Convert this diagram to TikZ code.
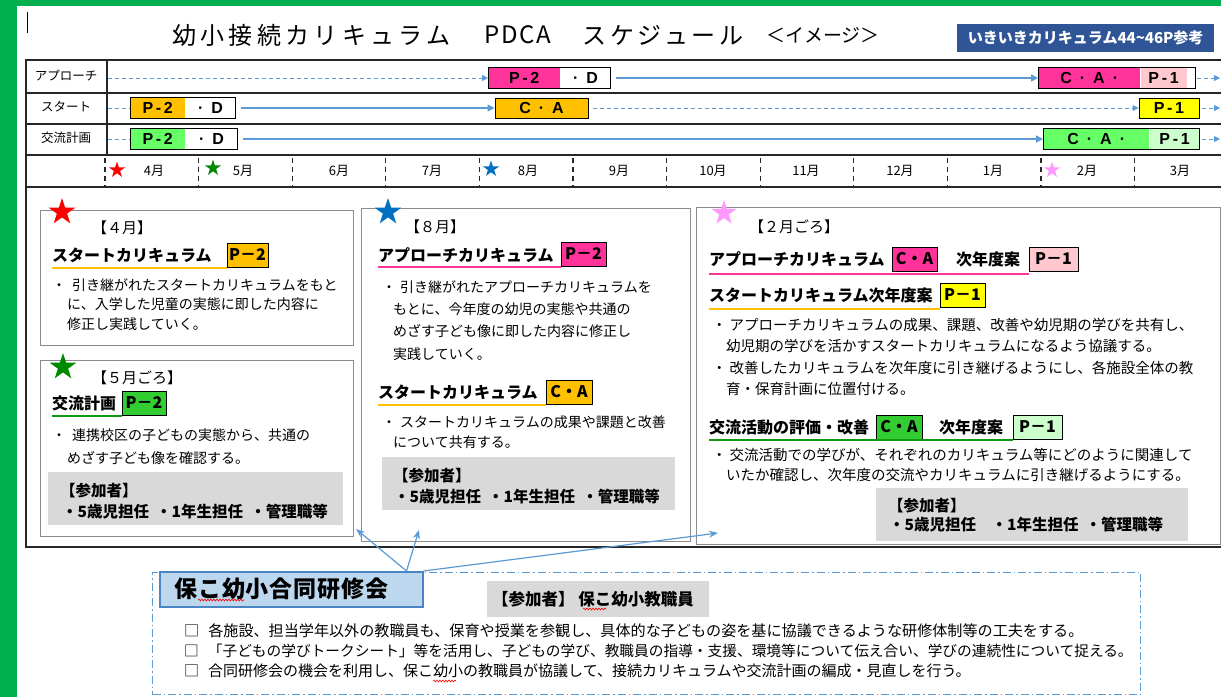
\documentclass[tikz,border=0pt]{standalone}
\usepackage{fontspec}
\setmainfont{Noto Sans CJK JP}
\newfontfamily\lat{Liberation Sans}
\usetikzlibrary{arrows.meta,shapes.geometric,decorations.pathmorphing}
\newcommand\fsz[1]{\fontsize{#1}{#1}\selectfont}
\definecolor{frameg}{HTML}{00B050}
\definecolor{arrb}{HTML}{5B9BD5}
\definecolor{pinkc}{HTML}{FF3399}
\definecolor{lpink}{HTML}{FFC7CE}
\definecolor{orangec}{HTML}{FFC000}
\definecolor{yellowc}{HTML}{FFFF00}
\definecolor{greenc}{HTML}{66FF66}
\definecolor{greenp}{HTML}{33CC33}
\definecolor{lgreen}{HTML}{CCFFCC}
\definecolor{dgreen}{HTML}{119911}
\definecolor{starblue}{HTML}{0070C0}
\definecolor{starpink}{HTML}{FF99FF}
\definecolor{starg}{HTML}{008A00}
\definecolor{grayb}{HTML}{D9D9D9}
\definecolor{panelb}{HTML}{8C8C8C}
\definecolor{navyb}{HTML}{2F5597}
\definecolor{lblue}{HTML}{BDD7EE}
\definecolor{tborder}{HTML}{4A86C5}
\tikzset{
  bodytxt/.style={anchor=west, inner sep=0pt, font=\fsz{14}},
  hdrtxt/.style={anchor=west, inner sep=0pt, font=\fsz{16}\bfseries},
  tagbox/.style={draw=black, line width=0.8pt, inner sep=0pt, minimum height=24pt, font=\fsz{16}\bfseries},
  tlpart/.style={inner sep=0pt, minimum height=20pt, font=\lat\fsz{16}\bfseries},
  tlframe/.style={draw=black, line width=1pt},
  pnl/.style={draw=panelb, line width=1.3pt, anchor=north west, inner sep=0pt},
  gbox/.style={fill=grayb, anchor=north west, inner sep=0pt},
  ptxt/.style={anchor=west, inner sep=0pt, font=\fsz{15.5}\bfseries},
  sarr/.style={draw=arrb, line width=1.6pt, -{Triangle[length=7pt,width=7pt]}},
  darr/.style={draw=arrb, line width=1pt, dash pattern=on 4pt off 3pt, -{Triangle[length=6pt,width=6pt]}},
  dline/.style={draw=arrb, line width=1pt, dash pattern=on 4pt off 3pt},
  barr/.style={draw=arrb, line width=1.2pt, -{Stealth[length=9pt,width=7pt]}},
  uln/.style={line width=2pt},
  tbl/.style={draw=black!85, line width=1.2pt},
  tblk/.style={draw=black!85, line width=2pt},
  mtick/.style={draw=black!85, line width=1.2pt, dash pattern=on 5pt off 4pt},
  mlab/.style={inner sep=0pt, font=\fsz{13}},
  bigstar/.style={star, star points=5, star point ratio=2.6, inner sep=0pt, minimum size=28pt},
  smstar/.style={bigstar, minimum size=17pt},
  wavy/.style={draw=red, line width=0.6pt, decorate, decoration={snake, amplitude=0.9pt, segment length=3pt}},
  rowlbl/.style={inner sep=0pt, font=\fsz{12.5}}
}
\begin{document}
\begin{tikzpicture}[x=1pt,y=-1pt]
\useasboundingbox (0,0) rectangle (1221,697);
% frame
\fill[frameg] (0,0) rectangle (1221,697);
\fill[white] (17,6) rectangle (1221,697);
\draw[black, line width=1pt] (27,12) -- (27,33);

% title
\node[anchor=west, inner sep=0pt, font=\fsz{24}\addfontfeature{LetterSpace=18}] (title1) at (172,35) {幼小接続カリキュラム};
\node[anchor=west, inner sep=0pt, font=\fsz{24}\addfontfeature{LetterSpace=8}] (title2) at (484,35) {PDCA};
\node[anchor=west, inner sep=0pt, font=\fsz{24}\addfontfeature{LetterSpace=16}] (title3) at (582,35) {スケジュール};
\node[anchor=west, inner sep=0pt, font=\fsz{19}] (title4) at (766,35) {＜イメージ＞};
\node[fill=navyb, text=white, font=\fsz{15}\bfseries, minimum width=257pt, minimum height=28pt, anchor=north west, inner sep=0pt] (refbox) at (957,24) {いきいきカリキュラム44\textasciitilde46P参考};

% panels
\node[pnl, minimum width=313pt, minimum height=135pt] (pan1) at (40,210) {};
\node[pnl, minimum width=313pt, minimum height=176pt] (pan2) at (40,360) {};
\node[pnl, minimum width=329pt, minimum height=333pt] (pan3) at (361,208) {};
\node[pnl, minimum width=524pt, minimum height=337pt] (pan4) at (696,207) {};

% table lines
\draw[tblk] (1222,60) -- (26,60) -- (26,547) -- (1222,547);
\draw[tbl] (26,93) -- (1222,93);
\draw[tbl] (26,124) -- (1222,124);
\draw[tblk] (26,155) -- (1222,155);
\draw[tblk] (26,187) -- (1222,187);
\draw[tbl] (107,60) -- (107,155);

% row labels
\node[rowlbl] (rl1) at (66,76) {アプローチ};
\node[rowlbl] (rl2) at (66,107) {スタート};
\node[rowlbl] (rl3) at (66,138) {交流計画};

% row 1
\node[tlpart, fill=pinkc, minimum width=72pt, anchor=west] (a1p) at (488,78) {P\,-\,2};
\node[tlpart, fill=white, minimum width=50pt, anchor=west] (a1d) at (a1p.east) {·\enspace D};
\draw[tlframe] (a1p.north west) rectangle (a1d.south east);
\node[tlpart, fill=pinkc, minimum width=102pt, anchor=west] (a2p) at (1038,78) {C\enspace·\enspace A\enspace·};
\node[tlpart, fill=lpink, minimum width=46pt, anchor=west] (a2q) at (a2p.east) {P\,-\,1};
\node[tlpart, fill=white, minimum width=8pt, anchor=west] (a2r) at (a2q.east) {};
\draw[tlframe] (a2p.north west) rectangle (a2r.south east);
\coordinate (a0) at (108,78);
\coordinate (aend) at (1220,78);
\draw[darr] (a0) -- (a1p.west);
\draw[sarr] ([xshift=5pt]a1d.east) -- (a2p.west);
\draw[darr] ([xshift=2pt]a2r.east) -- (aend);

% row 2
\node[tlpart, fill=orangec, minimum width=55pt, anchor=west] (s1p) at (130,108) {P\,-\,2};
\node[tlpart, fill=white, minimum width=50pt, anchor=west] (s1d) at (s1p.east) {·\enspace D};
\draw[tlframe] (s1p.north west) rectangle (s1d.south east);
\node[tlpart, fill=orangec, draw=black, line width=1pt, minimum width=93pt] (s2) at (541.5,108) {C\enspace·\enspace A};
\node[tlpart, fill=yellowc, draw=black, line width=1pt, minimum width=60pt] (s3) at (1169,108) {P\,-\,1};
\coordinate (s0) at (108,108);
\coordinate (send) at (1220,108);
\draw[dline] (s0) -- (s1p.west);
\draw[sarr] ([xshift=5pt]s1d.east) -- (s2.west);
\draw[darr] ([xshift=4pt]s2.east) -- (s3.west);
\draw[darr] ([xshift=2pt]s3.east) -- (send);

% row 3
\node[tlpart, fill=greenc, minimum width=55pt, anchor=west] (k1p) at (130,139) {P\,-\,2};
\node[tlpart, fill=white, minimum width=52pt, anchor=west] (k1d) at (k1p.east) {·\enspace D};
\draw[tlframe] (k1p.north west) rectangle (k1d.south east);
\node[tlpart, fill=greenc, minimum width=106pt, anchor=west] (k2p) at (1043,139) {C\enspace·\enspace A\enspace·};
\node[tlpart, fill=lgreen, minimum width=50pt, anchor=west] (k2q) at (k2p.east) {P\,-\,1};
\draw[tlframe] (k2p.north west) rectangle (k2q.south east);
\coordinate (k0) at (108,139);
\coordinate (kend) at (1220,139);
\draw[dline] (k0) -- (k1p.west);
\draw[sarr] ([xshift=5pt]k1d.east) -- (k2p.west);
\draw[darr] ([xshift=2pt]k2q.east) -- (kend);

% month row
\foreach \i in {0,...,11} \draw[mtick] ({105+93.6*\i},158) -- ({105+93.6*\i},187);
\node[mlab] (m4) at (154,171) {4月};
\node[mlab] (m5) at (243,171) {5月};
\node[mlab] (m6) at (339,171) {6月};
\node[mlab] (m7) at (432,171) {7月};
\node[mlab] (m8) at (528,171) {8月};
\node[mlab] (m9) at (619,171) {9月};
\node[mlab] (m10) at (713,171) {10月};
\node[mlab] (m11) at (806,171) {11月};
\node[mlab] (m12) at (900,171) {12月};
\node[mlab] (m1) at (993,171) {1月};
\node[mlab] (m2) at (1087,171) {2月};
\node[mlab] (m3) at (1180,171) {3月};
\node[smstar, fill=red] (ms4) at (117,170) {};
\node[smstar, fill=starg] (ms5) at (213,168) {};
\node[smstar, fill=starblue] (ms8) at (491,169) {};
\node[smstar, fill=starpink] (ms2) at (1052,170) {};

% panel 1
\node[bigstar, fill=red] (st1) at (62,212) {};
\node[bodytxt, font=\fsz{15}] (p1m) at (92,228) {【４月】};
\node[hdrtxt] (p1h) at (52,255) {スタートカリキュラム};
\node[tagbox, fill=orangec, minimum width=41pt] (p1t) at (247.5,255) {P－2};
\draw[uln, orangec] (52,268) -- (227,268);
\node[bodytxt] (p1b1) at (52,285) {・\hspace{6pt}引き継がれたスタートカリキュラムをもと};
\node[bodytxt] (p1b2) at (67,304) {に、入学した児童の実態に即した内容に};
\node[bodytxt] (p1b3) at (67,324) {修正し実践していく。};

% panel 2
\node[bigstar, fill=starg] (st2) at (63,367) {};
\node[bodytxt, font=\fsz{15}] (p2m) at (92,378) {【５月ごろ】};
\node[hdrtxt] (p2h) at (52,403) {交流計画};
\node[tagbox, fill=greenp, minimum width=44pt] (p2t) at (144,403) {P－2};
\draw[uln, dgreen] (52,416) -- (122,416);
\node[bodytxt] (p2b1) at (52,435) {・\hspace{6pt}連携校区の子どもの実態から、共通の};
\node[bodytxt] (p2b2) at (67,458) {めざす子ども像を確認する。};
\node[gbox, minimum width=295pt, minimum height=53pt] (p2g) at (48,472) {};
\node[ptxt] (p2g1) at (60,491) {【参加者】};
\node[ptxt] (p2g2) at (62,512) {・5歳児担任\ \ ・1年生担任\ \ ・管理職等};

% panel 3
\node[bigstar, fill=starblue] (st3) at (388,212) {};
\node[bodytxt, font=\fsz{15}] (p3m) at (405,227) {【８月】};
\node[hdrtxt] (p3h1) at (378,255) {アプローチカリキュラム};
\node[tagbox, fill=pinkc, minimum width=45pt] (p3t1) at (583.5,254) {P－2};
\draw[uln, pinkc] (378,267) -- (561,267);
\node[bodytxt] (p3b1) at (382,287) {・\hspace{4pt}引き継がれたアプローチカリキュラムを};
\node[bodytxt] (p3b2) at (393,309) {もとに、今年度の幼児の実態や共通の};
\node[bodytxt] (p3b3) at (393,331) {めざす子ども像に即した内容に修正し};
\node[bodytxt] (p3b4) at (393,354) {実践していく。};
\node[hdrtxt] (p3h2) at (378,392) {スタートカリキュラム};
\node[tagbox, fill=orangec, minimum width=46pt] (p3t2) at (569,392) {C・A};
\draw[uln, orangec] (378,405) -- (546,405);
\node[bodytxt] (p3b5) at (382,422) {・\hspace{4pt}スタートカリキュラムの成果や課題と改善};
\node[bodytxt] (p3b6) at (393,442) {について共有する。};
\node[gbox, minimum width=293pt, minimum height=53pt] (p3g) at (382,457) {};
\node[ptxt] (p3g1) at (393,476) {【参加者】};
\node[ptxt] (p3g2) at (394,497) {・5歳児担任\ \ ・1年生担任\ \ ・管理職等};

% panel 4
\node[bigstar, fill=starpink, minimum size=26pt] (st4) at (724,213) {};
\node[bodytxt, font=\fsz{15}] (p4m) at (749,227) {【２月ごろ】};
\node[hdrtxt] (p4h1) at (709,259) {アプローチカリキュラム};
\node[tagbox, fill=pinkc, minimum width=45pt] (p4t1) at (914.5,259) {C・A};
\node[hdrtxt] (p4h1b) at (956,259) {次年度案};
\node[tagbox, fill=lpink, minimum width=49pt] (p4t2) at (1053.5,259) {P－1};
\draw[uln, pinkc] (709,274) -- (1029,274);
\node[hdrtxt] (p4h2) at (709,295) {スタートカリキュラム次年度案};
\node[tagbox, fill=yellowc, minimum width=45pt] (p4t3) at (962.5,295) {P－1};
\draw[uln, orangec] (709,309) -- (940,309);
\node[bodytxt, font=\fsz{14.5}] (p4b1) at (712,325) {・\hspace{3pt}アプローチカリキュラムの成果、課題、改善や幼児期の学びを共有し、};
\node[bodytxt, font=\fsz{14.5}] (p4b2) at (726,346) {幼児期の学びを活かすスタートカリキュラムになるよう協議する。};
\node[bodytxt, font=\fsz{14.5}] (p4b3) at (712,368) {・\hspace{3pt}改善したカリキュラムを次年度に引き継げるようにし、各施設全体の教};
\node[bodytxt, font=\fsz{14.5}] (p4b4) at (726,389) {育・保育計画に位置付ける。};
\node[hdrtxt] (p4h3) at (709,427) {交流活動の評価・改善};
\node[tagbox, fill=greenp, minimum width=46pt] (p4t4) at (899,427) {C・A};
\node[hdrtxt] (p4h3b) at (939,427) {次年度案};
\node[tagbox, fill=lgreen, minimum width=49pt] (p4t5) at (1037.5,427) {P－1};
\draw[uln, dgreen] (709,440) -- (1013,440);
\node[bodytxt, font=\fsz{14.5}] (p4b5) at (712,455) {・\hspace{3pt}交流活動での学びが、それぞれのカリキュラム等にどのように関連して};
\node[bodytxt, font=\fsz{14.5}] (p4b6) at (726,475) {いたか確認し、次年度の交流やカリキュラムに引き継げるようにする。};
\node[gbox, minimum width=312pt, minimum height=53pt] (p4g) at (876,488) {};
\node[ptxt] (p4g1) at (888,506) {【参加者】};
\node[ptxt] (p4g2) at (889,525) {・5歳児担任\quad ・1年生担任\ \ ・管理職等};

% bottom section
\node[draw=arrb, line width=1.2pt, dash pattern=on 8pt off 3pt on 1.5pt off 3pt, minimum width=988pt, minimum height=122pt, anchor=north west, inner sep=0pt] (bb) at (152,572) {};
\node[fill=lblue, draw=tborder, line width=1.5pt, minimum width=263pt, minimum height=35pt, anchor=north west, inner sep=0pt] (bt) at (159,571) {};
\node[anchor=west, inner sep=0pt, font=\fsz{23}\bfseries\addfontfeature{LetterSpace=4}] (btt) at (174,589) {保こ幼小合同研修会};
\draw[wavy] (198,600) -- (244,600);
\node[gbox, minimum width=222pt, minimum height=36pt] (bg) at (487,581) {};
\node[anchor=west, inner sep=0pt, font=\fsz{16.5}\bfseries] (bgt) at (492,599) {【参加者】\ 保こ幼小教職員};
\draw[wavy] (583,609) -- (606,609);
\node[bodytxt, font=\fsz{15.1}] (bl1) at (184,631) {□\hspace{9pt}各施設、担当学年以外の教職員も、保育や授業を参観し、具体的な子どもの姿を基に協議できるような研修体制等の工夫をする。};
\node[bodytxt, font=\fsz{14.7}] (bl2) at (184,651) {□\hspace{9pt}「子どもの学びトークシート」等を活用し、子どもの学び、教職員の指導・支援、環境等について伝え合い、学びの連続性について捉える。};
\node[bodytxt, font=\fsz{15}] (bl3) at (184,671) {□\hspace{9pt}合同研修会の機会を利用し、保こ幼小の教職員が協議して、接続カリキュラムや交流計画の編成・見直しを行う。};
\draw[wavy] (433,681) -- (456,681);

% connectors from the joint-training box
\coordinate (t1) at (356,529);
\coordinate (t2) at (419,530);
\coordinate (t3) at (718,533);
\draw[barr] ([xshift=-17pt]bt.north east) -- (t1);
\draw[barr] ([xshift=-17pt]bt.north east) -- (t2);
\draw[barr] (bt.north east) -- (t3);
\end{tikzpicture}
\end{document}
